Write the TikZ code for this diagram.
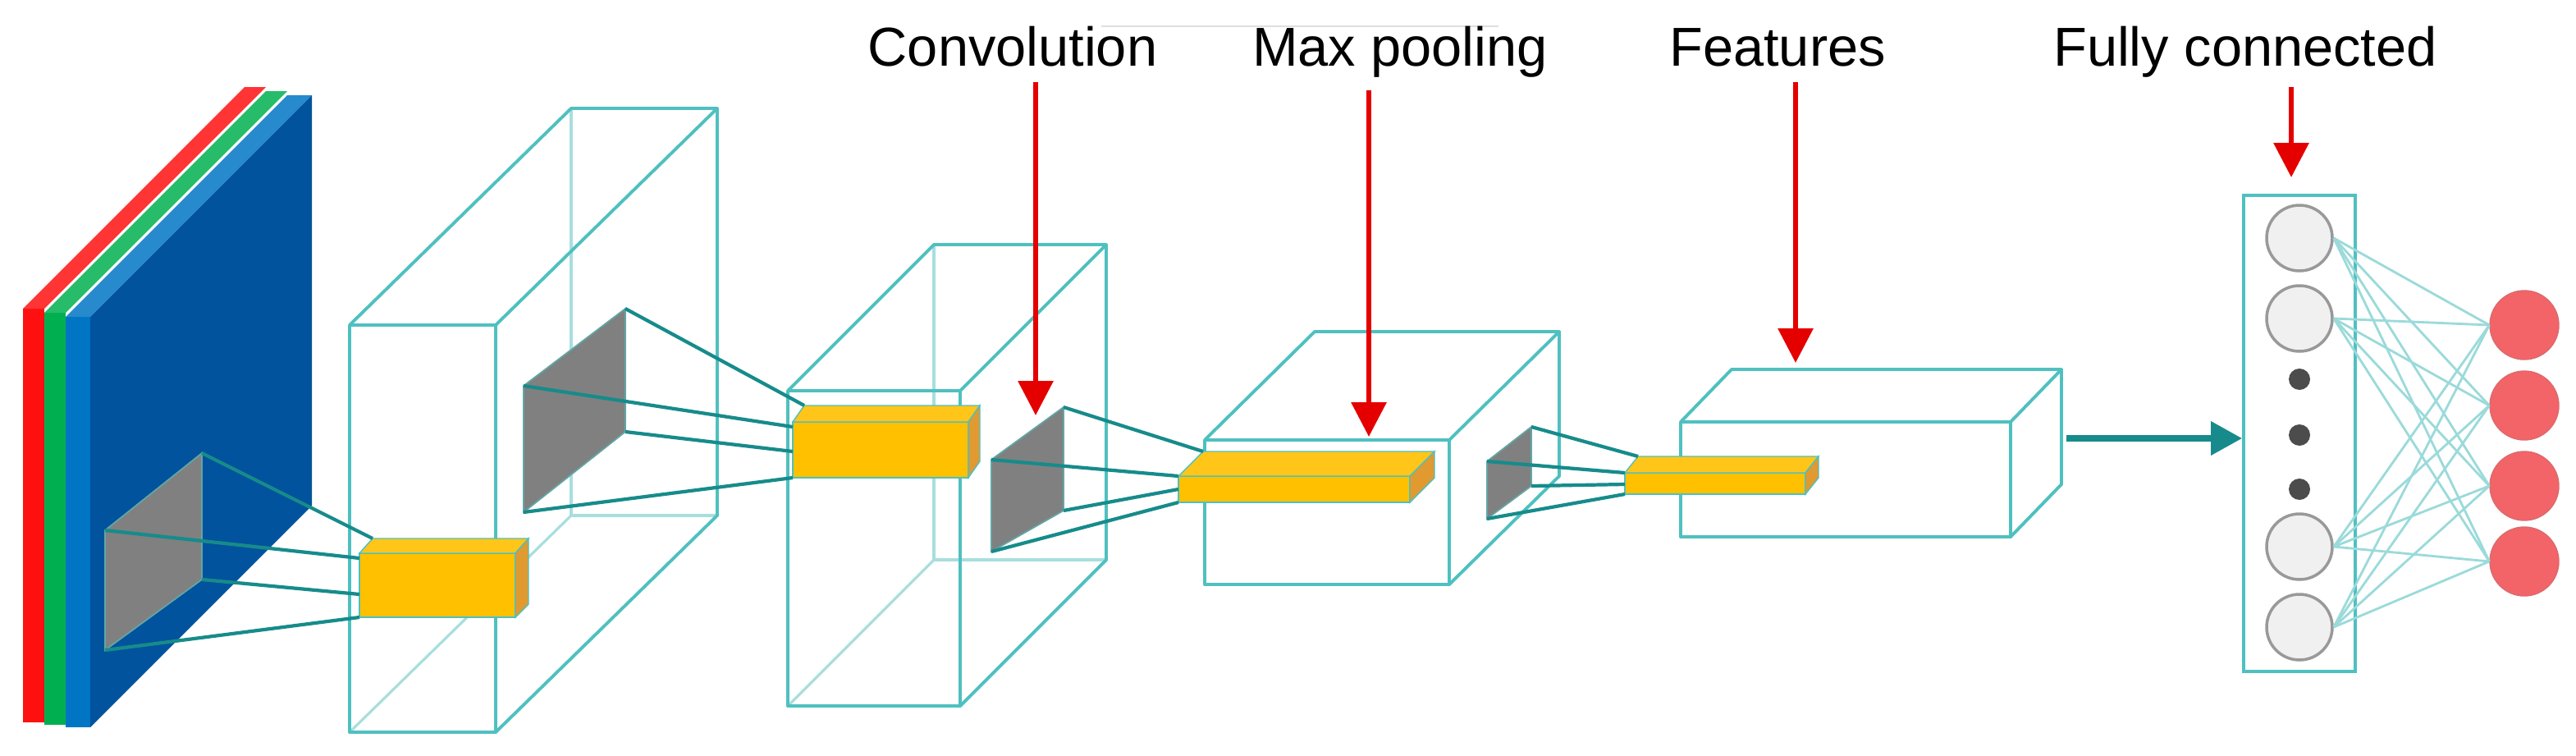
\documentclass[tikz,border=0pt]{standalone}
\usepackage{fontspec}
\setmainfont{Liberation Sans}
\usetikzlibrary{arrows.meta}
\definecolor{wire}{HTML}{4FC0C0}
\definecolor{wirelight}{HTML}{A8DEDE}
\definecolor{link}{HTML}{178B8B}
\definecolor{kernel}{HTML}{808080}
\definecolor{feat}{HTML}{FFC000}
\definecolor{featside}{HTML}{E09A30}
\definecolor{chred}{HTML}{FF1010}
\definecolor{chgreen}{HTML}{00B050}
\definecolor{chblue}{HTML}{0075C4}
\definecolor{chface}{HTML}{00539C}
\definecolor{outred}{HTML}{F26468}
\definecolor{cellgray}{HTML}{F0F0F0}
\tikzset{
    box/.style={draw=wire,line width=1.1pt,line join=round},
    hidden/.style={draw=wirelight,line width=0.9pt},
    patch/.style={fill=kernel,draw=wire!60!gray,line width=0.5pt},
    link/.style={draw=link,line width=1.2pt},
    pointer/.style={draw=red!90!black,line width=1.8pt,-{Triangle[length=0.42cm,width=0.42cm]}},
    label/.style={font=\fontsize{19}{22}\selectfont,anchor=base},
}
\begin{document}
\begin{tikzpicture}[x=0.02cm,y=-0.02cm]
\useasboundingbox[fill=white] (0,0) rectangle (1569.5,460);
% input image, three channels
\foreach \i/\c/\w in {0/chred/13,1/chgreen/13,2/chblue/15}{
  \fill[\c] (14+13*\i,188+2.5*\i) rectangle (14+13*\i+\w,440+1.5*\i);
  \fill[\c!85!white] (14+13*\i,188+2.5*\i) -- ++(135,-135) -- ++(\w,0) -- ++(-135,135) -- cycle;
}
\fill[chface] (55,193) -- (190,58) -- (190,308) -- (55,443) -- cycle;

% convolution 1
\draw[hidden] (348,66) -- (348,314) -- (437,314);
\draw[hidden] (213,446) -- (348,314);
\draw[box] (213,198) rectangle (302,446);
\draw[box] (213,198) -- (348,66) -- (437,66) -- (302,198);
\draw[box] (437,66) -- (437,314) -- (302,446);

% convolution 2
\draw[hidden] (569,149) -- (569,341) -- (674,341);
\draw[hidden] (480,430) -- (569,341);
\draw[box] (480,238) rectangle (585,430);
\draw[box] (480,238) -- (569,149) -- (674,149) -- (585,238);
\draw[box] (674,149) -- (674,341) -- (585,430);

% max pooling
\draw[box] (734,268) rectangle (883,356);
\draw[box] (734,268) -- (801,202) -- (950,202) -- (883,268);
\draw[box] (950,202) -- (950,290) -- (883,356);

% features
\draw[box] (1024,257) rectangle (1225,327);
\draw[box] (1024,257) -- (1055,225) -- (1256,225) -- (1225,257);
\draw[box] (1256,225) -- (1256,295) -- (1225,327);

% kernels
\draw[patch] (64,323) coordinate (k1a) -- (123,276) coordinate (k1b) -- (123,353) coordinate (k1c) -- (64,396) coordinate (k1d) -- cycle;
\draw[patch] (319,235) coordinate (k2a) -- (381,188) coordinate (k2b) -- (381,263) coordinate (k2c) -- (319,312) coordinate (k2d) -- cycle;
\draw[patch] (604,280) coordinate (k3a) -- (648,248) coordinate (k3b) -- (648,311) coordinate (k3c) -- (604,336) coordinate (k3d) -- cycle;
\draw[patch] (906,281) coordinate (k4a) -- (933,260) coordinate (k4b) -- (933,296) coordinate (k4c) -- (906,316) coordinate (k4d) -- cycle;

% feature blocks
\fill[feat,draw=wire] (219,337) rectangle (314,376);
\fill[feat!90!white,draw=wire] (219,337) -- (227,328) -- (322,328) -- (314,337) -- cycle;
\fill[featside,draw=wire] (314,337) -- (322,328) -- (322,368) -- (314,376) -- cycle;
\fill[feat,draw=wire] (483,257) rectangle (590,291);
\fill[feat!90!white,draw=wire] (483,257) -- (490,247) -- (597,247) -- (590,257) -- cycle;
\fill[featside,draw=wire] (590,257) -- (597,247) -- (597,281) -- (590,291) -- cycle;
\fill[feat,draw=wire] (718,290) rectangle (859,306);
\fill[feat!90!white,draw=wire] (718,290) -- (733,275) -- (874,275) -- (859,290) -- cycle;
\fill[featside,draw=wire] (859,290) -- (874,275) -- (874,291) -- (859,306) -- cycle;
\fill[feat,draw=wire] (990,288) rectangle (1100,301);
\fill[feat!90!white,draw=wire] (990,288) -- (998,278) -- (1108,278) -- (1100,288) -- cycle;
\fill[featside,draw=wire] (1100,288) -- (1108,278) -- (1108,291) -- (1100,301) -- cycle;

\coordinate (f1a) at (227,328); \coordinate (f1b) at (219,340);
\coordinate (f1c) at (219,362); \coordinate (f1d) at (219,376);
\coordinate (f2a) at (490,247); \coordinate (f2b) at (483,260);
\coordinate (f2c) at (483,275); \coordinate (f2d) at (483,291);
\coordinate (f3a) at (733,275); \coordinate (f3b) at (718,290);
\coordinate (f3c) at (718,298); \coordinate (f3d) at (718,306);
\coordinate (f4a) at (998,278); \coordinate (f4b) at (990,288);
\coordinate (f4c) at (990,295); \coordinate (f4d) at (990,301);
\foreach \n in {1,2,3,4}{
  \draw[link] (k\n b) -- (f\n a);
  \draw[link] (k\n a) -- (f\n b);
  \draw[link] (k\n c) -- (f\n c);
  \draw[link] (k\n d) -- (f\n d);
}

% fully connected
\node (fc) at (1401,264) [draw=wire,line width=1.1pt,minimum width=1.36cm,minimum height=5.8cm] {};
\foreach \y/\n in {145/1,194/2,333/3,382/4}
  \node (in\n) at (1401,\y) [circle,draw=gray!80,line width=1pt,fill=cellgray,minimum size=0.8cm,inner sep=0] {};
\foreach \y/\n in {231/1,265/2,298/3}
  \node (dot\n) at (1401,\y) [circle,fill=black!70,minimum size=0.26cm,inner sep=0] {};
\foreach \y/\n in {198/1,247/2,296/3,342/4}
  \node (out\n) at (1538,\y) [circle,fill=outred,draw=outred!80!gray,minimum size=0.84cm,inner sep=0] {};
\foreach \i in {1,...,4}
  \foreach \j in {1,...,4}
    \draw[wirelight!85!wire,line width=0.8pt] (in\i.east) -- (out\j.west);
\coordinate (flat) at (1259,267);
\draw[link,line width=2pt,-{Triangle[length=0.38cm,width=0.4cm]}] (flat) -- (flat -| fc.west);

% labels and pointers
\draw[gray!25,line width=0.5pt] (671,16) -- (913,16);
\node (lconv) at (617,40) [label] {Convolution};
\node (lpool) at (853,40) [label] {Max pooling};
\node (lfeat) at (1083,40) [label] {Features};
\node (lfc) at (1368,40) [label] {Fully connected};
\coordinate (pconv) at (631,253);
\coordinate (ppool) at (834,266);
\coordinate (pfeat) at (1094,221);
\coordinate (pfc) at (1396,108);
\draw[pointer] (631,50) -- (pconv);
\draw[pointer] (834,55) -- (ppool);
\draw[pointer] (1094,50) -- (pfeat);
\draw[pointer] (1396,53) -- (pfc);
\end{tikzpicture}
\end{document}
